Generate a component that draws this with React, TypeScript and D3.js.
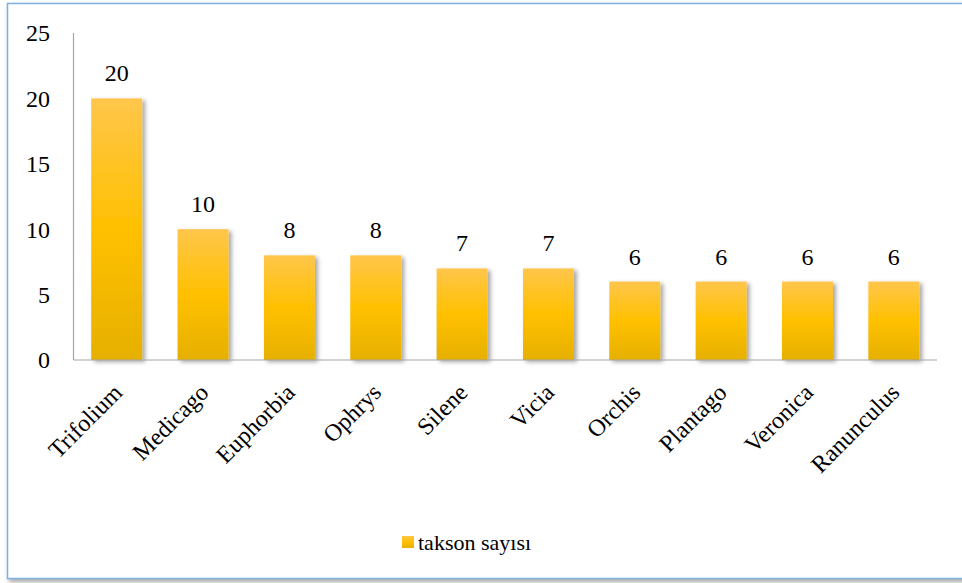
import React, { useEffect, useRef } from 'react';
import * as d3 from 'd3';

const genera = ['Trifolium', 'Medicago', 'Euphorbia', 'Ophrys', 'Silene', 'Vicia', 'Orchis', 'Plantago', 'Veronica', 'Ranunculus'];
const taxonCounts = [20, 10, 8, 8, 7, 7, 6, 6, 6, 6];
const yTicks = [0, 5, 10, 15, 20, 25];
const seriesName = 'takson sayısı';

const App = () => {
  const ref = useRef<SVGSVGElement>(null);

  useEffect(() => {
    const W = 962;
    const H = 583;
    const plot = { left: 73.5, right: 937, top: 33, bottom: 360 };
    const font = "'Liberation Serif', serif";

    const svg = d3.select(ref.current);
    svg.selectAll('*').remove();
    svg.attr('width', W).attr('height', H).style('font-family', font);

    const defs = svg.append('defs');
    const grad = defs.append('linearGradient')
      .attr('id', 'barGrad')
      .attr('x1', 0).attr('y1', 0).attr('x2', 0).attr('y2', 1);
    grad.append('stop').attr('offset', '0%').attr('stop-color', '#FFC64B');
    grad.append('stop').attr('offset', '50%').attr('stop-color', '#FFC000');
    grad.append('stop').attr('offset', '100%').attr('stop-color', '#E6B000');

    const shadow = defs.append('filter').attr('id', 'barShadow')
      .attr('x', '-20%').attr('y', '-20%').attr('width', '150%').attr('height', '150%');
    shadow.append('feDropShadow')
      .attr('dx', 3).attr('dy', 2).attr('stdDeviation', 2)
      .attr('flood-color', '#000').attr('flood-opacity', 0.35);

    const frameShadow = defs.append('filter').attr('id', 'frameShadow')
      .attr('x', '-5%').attr('y', '-5%').attr('width', '110%').attr('height', '110%');
    frameShadow.append('feDropShadow')
      .attr('dx', 2).attr('dy', 3).attr('stdDeviation', 2)
      .attr('flood-color', '#555').attr('flood-opacity', 0.5);

    // chart frame
    svg.append('rect')
      .attr('x', 7.5).attr('y', 3.5)
      .attr('width', 965).attr('height', 575)
      .attr('fill', '#fff')
      .attr('stroke', '#7FAFDD')
      .attr('stroke-width', 1.5)
      .attr('filter', 'url(#frameShadow)');

    const x = d3.scaleBand()
      .domain(genera)
      .range([plot.left, plot.right])
      .paddingInner(0.41)
      .paddingOuter(0.205);

    const y = d3.scaleLinear()
      .domain([0, 25])
      .range([plot.bottom, plot.top]);

    // y axis
    svg.append('line')
      .attr('x1', plot.left).attr('x2', plot.left)
      .attr('y1', plot.top).attr('y2', plot.bottom)
      .attr('stroke', '#A6A6A6').attr('stroke-width', 1.2);

    svg.append('g')
      .selectAll('text')
      .data(yTicks)
      .enter().append('text')
      .attr('x', 50)
      .attr('y', d => y(d))
      .attr('dy', '0.35em')
      .attr('text-anchor', 'end')
      .style('font-family', font)
      .style('font-size', '24px')
      .attr('fill', '#000')
      .text(d => String(d));

    // bars
    const data = genera.map((g, i) => ({ g, v: taxonCounts[i] }));

    svg.append('g')
      .selectAll('rect')
      .data(data)
      .enter().append('rect')
      .attr('x', d => x(d.g)!)
      .attr('y', d => y(d.v))
      .attr('width', x.bandwidth())
      .attr('height', d => y(0) - y(d.v))
      .attr('fill', 'url(#barGrad)')
      .attr('filter', 'url(#barShadow)');

    // x axis line
    svg.append('line')
      .attr('x1', plot.left).attr('x2', plot.right)
      .attr('y1', plot.bottom).attr('y2', plot.bottom)
      .attr('stroke', '#A6A6A6').attr('stroke-width', 1.2);

    // value labels
    svg.append('g')
      .selectAll('text')
      .data(data)
      .enter().append('text')
      .attr('x', d => x(d.g)! + x.bandwidth() / 2)
      .attr('y', d => y(d.v) - 17)
      .attr('text-anchor', 'middle')
      .style('font-family', font)
      .style('font-size', '24px')
      .attr('fill', '#000')
      .text(d => String(d.v));

    // category labels
    svg.append('g')
      .selectAll('text')
      .data(genera)
      .enter().append('text')
      .attr('transform', d => `translate(${x(d)! + x.bandwidth() / 2 + 7},${plot.bottom + 34}) rotate(-45)`)
      .attr('text-anchor', 'end')
      .style('font-family', font)
      .style('font-size', '24px')
      .attr('fill', '#000')
      .text(d => d);

    // legend
    const legend = svg.append('g').attr('transform', 'translate(402,536)');
    legend.append('rect')
      .attr('width', 12).attr('height', 12)
      .attr('fill', 'url(#barGrad)');
    legend.append('text')
      .attr('x', 16)
      .attr('y', 14)
      .style('font-family', font)
      .style('font-size', '22px')
      .attr('fill', '#000')
      .text(seriesName);
  }, []);

  return (
    <svg ref={ref} style={{ position: 'absolute', left: 0, top: 0, display: 'block' }}></svg>
  );
};

export default App;
